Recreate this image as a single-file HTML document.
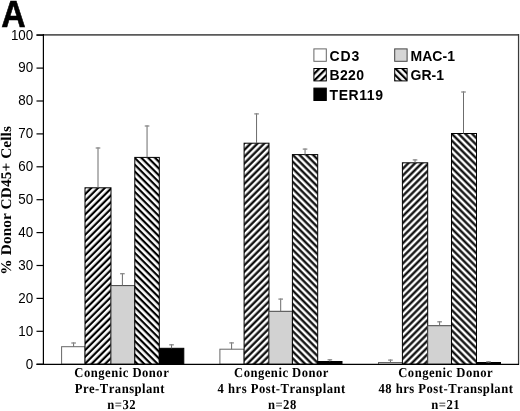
<!DOCTYPE html>
<html><head><meta charset="utf-8"><style>
html,body{margin:0;padding:0;background:#fff;width:520px;height:411px;overflow:hidden}
svg{display:block;will-change:transform}
.tk{font-family:"Liberation Sans",sans-serif;font-size:14px;fill:#000}
.lg{font-family:"Liberation Sans",sans-serif;font-size:14px;font-weight:bold;fill:#000}
.xl{font-family:"Liberation Serif",serif;font-size:13.6px;font-weight:bold;fill:#000;font-kerning:none;text-rendering:geometricPrecision}
.yl{font-family:"Liberation Serif",serif;font-size:14.8px;font-weight:bold;fill:#000;text-rendering:geometricPrecision}
.A{font-family:"Liberation Sans",sans-serif;font-size:36.5px;font-weight:bold;fill:#000;stroke:#000;stroke-width:0.6px}
</style></head><body>
<svg width="520" height="411" viewBox="0 0 520 411">
<defs>
<pattern id="fw" patternUnits="userSpaceOnUse" width="4.7942" height="4.7942" patternTransform="rotate(45)"><rect width="4.7942" height="4.7942" fill="#fff"/><rect x="0.0031" y="0" width="2.2" height="4.7942" fill="#000"/><rect x="-4.7911" y="0" width="2.2" height="4.7942" fill="#000"/></pattern>
<pattern id="bw" patternUnits="userSpaceOnUse" width="4.7942" height="4.7942" patternTransform="rotate(-45)"><rect width="4.7942" height="4.7942" fill="#fff"/><rect x="4.7549" y="0" width="2.2" height="4.7942" fill="#000"/><rect x="-0.0393" y="0" width="2.2" height="4.7942" fill="#000"/></pattern>
<pattern id="fw0" patternUnits="userSpaceOnUse" width="4.7942" height="4.7942" patternTransform="rotate(45)"><rect width="4.7942" height="4.7942" fill="#fff"/><rect x="4.5215" y="0" width="2.2" height="4.7942" fill="#000"/><rect x="-0.2727" y="0" width="2.2" height="4.7942" fill="#000"/></pattern>
<pattern id="bw0" patternUnits="userSpaceOnUse" width="4.7942" height="4.7942" patternTransform="rotate(-45)"><rect width="4.7942" height="4.7942" fill="#fff"/><rect x="1.6577" y="0" width="2.2" height="4.7942" fill="#000"/><rect x="-3.1365" y="0" width="2.2" height="4.7942" fill="#000"/></pattern>
<pattern id="fw1" patternUnits="userSpaceOnUse" width="4.7942" height="4.7942" patternTransform="rotate(45)"><rect width="4.7942" height="4.7942" fill="#fff"/><rect x="4.3306" y="0" width="2.2" height="4.7942" fill="#000"/><rect x="-0.4636" y="0" width="2.2" height="4.7942" fill="#000"/></pattern>
<pattern id="bw1" patternUnits="userSpaceOnUse" width="4.7942" height="4.7942" patternTransform="rotate(-45)"><rect width="4.7942" height="4.7942" fill="#fff"/><rect x="0.4556" y="0" width="2.2" height="4.7942" fill="#000"/><rect x="-4.3386" y="0" width="2.2" height="4.7942" fill="#000"/></pattern>
<pattern id="fw2" patternUnits="userSpaceOnUse" width="4.7942" height="4.7942" patternTransform="rotate(45)"><rect width="4.7942" height="4.7942" fill="#fff"/><rect x="0.3142" y="0" width="2.2" height="4.7942" fill="#000"/><rect x="-4.48" y="0" width="2.2" height="4.7942" fill="#000"/></pattern>
<pattern id="bw2" patternUnits="userSpaceOnUse" width="4.7942" height="4.7942" patternTransform="rotate(-45)"><rect width="4.7942" height="4.7942" fill="#fff"/><rect x="3.2134" y="0" width="2.2" height="4.7942" fill="#000"/><rect x="-1.5808" y="0" width="2.2" height="4.7942" fill="#000"/></pattern>
</defs>
<rect width="520" height="411" fill="#fff"/>
<text transform="translate(1.2,26.5) scale(0.925,1)" class="A">A</text>
<rect x="61.60" y="346.70" width="23.40" height="17.50" fill="#fff" stroke="#666" stroke-width="1"/>
<rect x="85.00" y="187.80" width="26.00" height="176.40" fill="url(#fw0)" stroke="#000" stroke-width="1"/>
<rect x="111.00" y="285.60" width="23.80" height="78.60" fill="#d2d2d2" stroke="#444" stroke-width="1"/>
<rect x="134.80" y="157.40" width="24.50" height="206.80" fill="url(#bw0)" stroke="#000" stroke-width="1"/>
<rect x="159.30" y="348.30" width="24.50" height="15.90" fill="#000" stroke="#000" stroke-width="1"/>
<rect x="219.90" y="349.20" width="24.20" height="15.00" fill="#fff" stroke="#666" stroke-width="1"/>
<rect x="244.10" y="143.20" width="24.90" height="221.00" fill="url(#fw1)" stroke="#000" stroke-width="1"/>
<rect x="269.00" y="311.30" width="23.40" height="52.90" fill="#d2d2d2" stroke="#444" stroke-width="1"/>
<rect x="292.40" y="154.60" width="25.30" height="209.60" fill="url(#bw1)" stroke="#000" stroke-width="1"/>
<rect x="317.70" y="361.50" width="24.30" height="2.70" fill="#000" stroke="#000" stroke-width="1"/>
<rect x="378.50" y="362.50" width="23.90" height="1.70" fill="#fff" stroke="#666" stroke-width="1"/>
<rect x="402.40" y="162.80" width="25.30" height="201.40" fill="url(#fw2)" stroke="#000" stroke-width="1"/>
<rect x="427.70" y="325.70" width="23.80" height="38.50" fill="#d2d2d2" stroke="#444" stroke-width="1"/>
<rect x="451.50" y="133.50" width="25.00" height="230.70" fill="url(#bw2)" stroke="#000" stroke-width="1"/>
<rect x="476.50" y="362.50" width="24.00" height="1.70" fill="#000" stroke="#000" stroke-width="1"/>
<line x1="73.60" y1="346.70" x2="73.60" y2="342.40" stroke="#6c6c6c" stroke-width="1.0"/>
<line x1="71.30" y1="343.00" x2="75.90" y2="343.00" stroke="#8a8a8a" stroke-width="1.3"/>
<line x1="98.00" y1="187.80" x2="98.00" y2="147.40" stroke="#6c6c6c" stroke-width="1.0"/>
<line x1="95.70" y1="148.00" x2="100.30" y2="148.00" stroke="#8a8a8a" stroke-width="1.3"/>
<line x1="122.40" y1="285.60" x2="122.40" y2="273.10" stroke="#6c6c6c" stroke-width="1.0"/>
<line x1="120.10" y1="273.70" x2="124.70" y2="273.70" stroke="#8a8a8a" stroke-width="1.3"/>
<line x1="147.05" y1="157.40" x2="147.05" y2="125.40" stroke="#6c6c6c" stroke-width="1.0"/>
<line x1="144.75" y1="126.00" x2="149.35" y2="126.00" stroke="#8a8a8a" stroke-width="1.3"/>
<line x1="171.55" y1="348.30" x2="171.55" y2="344.20" stroke="#6c6c6c" stroke-width="1.0"/>
<line x1="169.25" y1="344.80" x2="173.85" y2="344.80" stroke="#8a8a8a" stroke-width="1.3"/>
<line x1="231.60" y1="349.20" x2="231.60" y2="342.30" stroke="#6c6c6c" stroke-width="1.0"/>
<line x1="229.30" y1="342.90" x2="233.90" y2="342.90" stroke="#8a8a8a" stroke-width="1.3"/>
<line x1="256.55" y1="143.20" x2="256.55" y2="113.30" stroke="#6c6c6c" stroke-width="1.0"/>
<line x1="254.25" y1="113.90" x2="258.85" y2="113.90" stroke="#8a8a8a" stroke-width="1.3"/>
<line x1="280.70" y1="311.30" x2="280.70" y2="298.50" stroke="#6c6c6c" stroke-width="1.0"/>
<line x1="278.40" y1="299.10" x2="283.00" y2="299.10" stroke="#8a8a8a" stroke-width="1.3"/>
<line x1="305.05" y1="154.60" x2="305.05" y2="148.50" stroke="#6c6c6c" stroke-width="1.0"/>
<line x1="302.75" y1="149.10" x2="307.35" y2="149.10" stroke="#8a8a8a" stroke-width="1.3"/>
<line x1="329.85" y1="361.50" x2="329.85" y2="359.20" stroke="#6c6c6c" stroke-width="1.0"/>
<line x1="327.55" y1="359.80" x2="332.15" y2="359.80" stroke="#8a8a8a" stroke-width="1.3"/>
<line x1="390.45" y1="362.50" x2="390.45" y2="359.50" stroke="#6c6c6c" stroke-width="1.0"/>
<line x1="388.15" y1="360.10" x2="392.75" y2="360.10" stroke="#8a8a8a" stroke-width="1.3"/>
<line x1="415.05" y1="162.80" x2="415.05" y2="159.30" stroke="#6c6c6c" stroke-width="1.0"/>
<line x1="412.75" y1="159.90" x2="417.35" y2="159.90" stroke="#8a8a8a" stroke-width="1.3"/>
<line x1="439.60" y1="325.70" x2="439.60" y2="321.20" stroke="#6c6c6c" stroke-width="1.0"/>
<line x1="437.30" y1="321.80" x2="441.90" y2="321.80" stroke="#8a8a8a" stroke-width="1.3"/>
<line x1="463.50" y1="133.50" x2="463.50" y2="91.40" stroke="#6c6c6c" stroke-width="1.0"/>
<line x1="461.20" y1="92.00" x2="465.80" y2="92.00" stroke="#8a8a8a" stroke-width="1.3"/>
<line x1="488.50" y1="362.50" x2="488.50" y2="361.20" stroke="#6c6c6c" stroke-width="1.0"/>
<line x1="486.20" y1="361.80" x2="490.80" y2="361.80" stroke="#8a8a8a" stroke-width="1.3"/>
<line x1="36.5" y1="34.9" x2="518.4" y2="34.9" stroke="#5a5a5a" stroke-width="1.9"/>
<line x1="518.5" y1="34" x2="518.5" y2="364.6" stroke="#3a3a3a" stroke-width="1.15"/>
<line x1="519.6" y1="34" x2="519.6" y2="364.6" stroke="#d0d0d0" stroke-width="0.8"/>
<line x1="36.5" y1="364.4" x2="519" y2="364.4" stroke="#000" stroke-width="1.4"/>
<line x1="43.4" y1="34" x2="43.4" y2="365" stroke="#000" stroke-width="1.2"/>
<line x1="36.5" y1="364.20" x2="43.5" y2="364.20" stroke="#000" stroke-width="1.2"/>
<text transform="translate(33.2,368.50) scale(0.955,1)" text-anchor="end" class="tk">0</text>
<line x1="36.5" y1="331.30" x2="43.5" y2="331.30" stroke="#000" stroke-width="1.2"/>
<text transform="translate(33.2,335.60) scale(0.955,1)" text-anchor="end" class="tk">10</text>
<line x1="36.5" y1="298.40" x2="43.5" y2="298.40" stroke="#000" stroke-width="1.2"/>
<text transform="translate(33.2,302.70) scale(0.955,1)" text-anchor="end" class="tk">20</text>
<line x1="36.5" y1="265.50" x2="43.5" y2="265.50" stroke="#000" stroke-width="1.2"/>
<text transform="translate(33.2,269.80) scale(0.955,1)" text-anchor="end" class="tk">30</text>
<line x1="36.5" y1="232.60" x2="43.5" y2="232.60" stroke="#000" stroke-width="1.2"/>
<text transform="translate(33.2,236.90) scale(0.955,1)" text-anchor="end" class="tk">40</text>
<line x1="36.5" y1="199.70" x2="43.5" y2="199.70" stroke="#000" stroke-width="1.2"/>
<text transform="translate(33.2,204.00) scale(0.955,1)" text-anchor="end" class="tk">50</text>
<line x1="36.5" y1="166.80" x2="43.5" y2="166.80" stroke="#000" stroke-width="1.2"/>
<text transform="translate(33.2,171.10) scale(0.955,1)" text-anchor="end" class="tk">60</text>
<line x1="36.5" y1="133.90" x2="43.5" y2="133.90" stroke="#000" stroke-width="1.2"/>
<text transform="translate(33.2,138.20) scale(0.955,1)" text-anchor="end" class="tk">70</text>
<line x1="36.5" y1="101.00" x2="43.5" y2="101.00" stroke="#000" stroke-width="1.2"/>
<text transform="translate(33.2,105.30) scale(0.955,1)" text-anchor="end" class="tk">80</text>
<line x1="36.5" y1="68.10" x2="43.5" y2="68.10" stroke="#000" stroke-width="1.2"/>
<text transform="translate(33.2,72.40) scale(0.955,1)" text-anchor="end" class="tk">90</text>
<line x1="36.5" y1="35.20" x2="43.5" y2="35.20" stroke="#000" stroke-width="1.2"/>
<text transform="translate(33.2,39.50) scale(0.955,1)" text-anchor="end" class="tk">100</text>
<text transform="translate(10.6,200.3) rotate(-90) scale(1.035,1)" text-anchor="middle" class="yl" letter-spacing="0.1">% Donor CD45+ Cells</text>
<g class="xl" text-anchor="middle">
<text transform="translate(121.8,376.8) scale(0.93,1)" letter-spacing="0.52">Congenic Donor</text>
<text transform="translate(119.9,393.0) scale(0.93,1)" letter-spacing="0.52">Pre-Transplant</text>
<text transform="translate(121.6,409.3) scale(0.93,1)" letter-spacing="0.52">n=32</text>
<text transform="translate(281.5,376.8) scale(0.93,1)" letter-spacing="0.52">Congenic Donor</text>
<text transform="translate(281.7,393.0) scale(0.93,1)" letter-spacing="0.52">4 hrs Post-Transplant</text>
<text transform="translate(282.3,409.3) scale(0.93,1)" letter-spacing="0.52">n=28</text>
<text transform="translate(445.7,376.8) scale(0.93,1)" letter-spacing="0.52">Congenic Donor</text>
<text transform="translate(445.9,393.0) scale(0.93,1)" letter-spacing="0.52">48 hrs Post-Transplant</text>
<text transform="translate(445.7,409.3) scale(0.93,1)" letter-spacing="0.52">n=21</text>
</g>
<g class="lg">
<rect x="313.9" y="48.9" width="12.4" height="12.4" fill="#fff" stroke="#666" stroke-width="1"/>
<text x="329.6" y="60.8" letter-spacing="0.9">CD3</text>
<rect x="313.9" y="68.5" width="12.4" height="12.4" fill="url(#fw)" stroke="#000" stroke-width="1"/>
<text x="329.6" y="80.4" letter-spacing="0.3">B220</text>
<rect x="313.9" y="88.1" width="12.4" height="12.4" fill="#000" stroke="#000" stroke-width="1"/>
<text x="329.6" y="99.8" letter-spacing="0.55">TER119</text>
<rect x="394.7" y="48.9" width="12.4" height="12.4" fill="#d6d6d6" stroke="#444" stroke-width="1"/>
<text x="410.6" y="60.8">MAC-1</text>
<rect x="394.7" y="68.5" width="12.4" height="12.4" fill="url(#bw)" stroke="#000" stroke-width="1"/>
<text x="410.6" y="80.4">GR-1</text>
</g>
</svg>
</body></html>
